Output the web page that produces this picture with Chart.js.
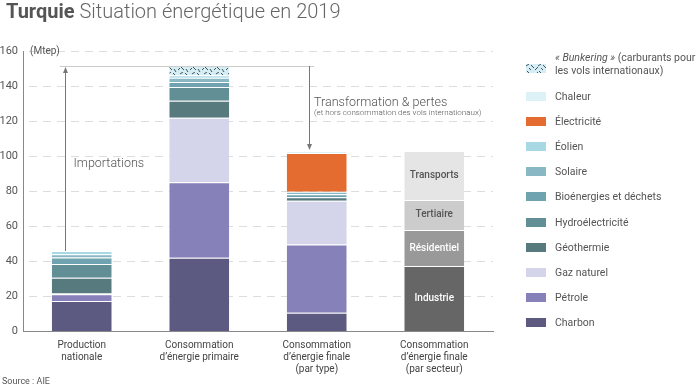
<!DOCTYPE html>
<html>
<head>
<meta charset="utf-8">
<script src="https://cdn.jsdelivr.net/npm/chart.js@4/dist/chart.umd.min.js"></script>
<style>
  body { margin: 0; background: #fff; font-family: Roboto, "Noto Sans", sans-serif; }
  #wrap { position: relative; width: 700px; height: 387px; overflow: hidden; }
  #title { position: absolute; left: 6px; top: -1px; font-size: 20px; color: #666; font-weight: 300; white-space: nowrap; }
  #title b { font-weight: 700; color: #555; }
  #source { position: absolute; left: 2px; top: 376px; font-size: 9px; color: #555; }
  #legend { position: absolute; left: 526px; top: 0; width: 180px; font-size: 10.5px; color: #555; }
  .item { position: absolute; left: 0; white-space: nowrap; }
  .sw { position: absolute; left: 0; width: 20px; height: 9px; }
  .lbl { position: absolute; left: 29px; line-height: 13px; }
</style>
</head>
<body>
<div id="wrap">
  <canvas id="chart" width="700" height="387"></canvas>
  <div id="title"><b>Turquie</b> Situation énergétique en 2019</div>
  <div id="legend"></div>
  <div id="source">Source : AIE</div>
</div>
<script>
const categories = [
    ['Production', 'nationale'],
    ['Consommation', 'd’énergie primaire'],
    ['Consommation', 'd’énergie finale', '(par type)'],
    ['Consommation', 'd’énergie finale', '(par secteur)']
];

// Mtep, par barre
const charbon = [17.1, 41.9, 10.5, 0];
const petrole = [3.9, 43.1, 39.0, 0];
const gazNaturel = [0.4, 36.9, 25.0, 0];
const geothermie = [9.1, 9.7, 1.9, 0];
const hydro = [7.8, 7.8, 0, 0];
const bioenergies = [3.7, 2.9, 1.7, 0];
const solaire = [1.8, 2.4, 1.5, 0];
const eolien = [1.9, 1.4, 0, 0];
const electricite = [0, 0, 22.1, 0];
const chaleur = [0, 0, 1.2, 0];
const bunkering = [0, 5.3, 0, 0];

const industrie = [0, 0, 0, 37.1];
const residentiel = [0, 0, 0, 20.6];
const tertiaire = [0, 0, 0, 17.2];
const transports = [0, 0, 0, 28.0];

const yTicks = [0, 20, 40, 60, 80, 100, 120, 140, 160];

function makePattern() {
    const c = document.createElement('canvas');
    c.width = 12; c.height = 12;
    const g = c.getContext('2d');
    g.fillStyle = '#d6eef3';
    g.fillRect(0, 0, 12, 12);
    g.strokeStyle = '#3f5560';
    g.lineWidth = 1;
    const strokes = [[0, 2, 3, 0], [5, 1, 8, 4], [9, 6, 12, 3], [1, 7, 4, 10], [6, 9, 8, 12], [3, 4, 5, 6], [10, 10, 12, 8]];
    strokes.forEach(s => {
        g.beginPath(); g.moveTo(s[0], s[1]); g.lineTo(s[2], s[3]); g.stroke();
    });
    return c;
}
const patternCanvas = makePattern();
const ctx = document.getElementById('chart').getContext('2d');
const bunkerPattern = ctx.createPattern(patternCanvas, 'repeat');

const series = [
    { label: 'Charbon', data: charbon, color: '#5c5a80' },
    { label: 'Pétrole', data: petrole, color: '#8681b8' },
    { label: 'Gaz naturel', data: gazNaturel, color: '#d4d4ea' },
    { label: 'Géothermie', data: geothermie, color: '#567a7d' },
    { label: 'Hydroélectricité', data: hydro, color: '#628f95' },
    { label: 'Bioénergies et déchets', data: bioenergies, color: '#70a3b0' },
    { label: 'Solaire', data: solaire, color: '#89b8c4' },
    { label: 'Éolien', data: eolien, color: '#a8d8e4' },
    { label: 'Électricité', data: electricite, color: '#e56c31' },
    { label: 'Chaleur', data: chaleur, color: '#dcf2f6' },
    { label: 'Bunkering', data: bunkering, color: bunkerPattern }
];
const sectors = [
    { label: 'Industrie', data: industrie, color: '#666666', text: '#ffffff' },
    { label: 'Résidentiel', data: residentiel, color: '#999999', text: '#ffffff' },
    { label: 'Tertiaire', data: tertiaire, color: '#cccccc', text: '#555555' },
    { label: 'Transports', data: transports, color: '#e5e5e5', text: '#555555' }
];

const datasets = series.concat(sectors).map(s => ({
    label: s.label,
    data: s.data,
    backgroundColor: s.color,
    borderColor: 'rgba(255,255,255,0.35)',
    borderWidth: { top: 1 },
    borderSkipped: 'bottom',
    stack: 'all',
    barPercentage: 0.51,
    categoryPercentage: 1
}));

const sum = i => series.reduce((a, s) => a + s.data[i], 0);

// dashed grid lines behind the bars
const dashedGrid = {
    id: 'dashedGrid',
    beforeDatasetsDraw(chart) {
        const c = chart.ctx;
        const y = chart.scales.y;
        const area = chart.chartArea;
        c.save();
        c.strokeStyle = '#dddddd';
        c.lineWidth = 1;
        c.setLineDash([8, 6]);
        yTicks.forEach(v => {
            if (v === 0) return;
            const py = Math.round(y.getPixelForValue(v)) + 0.5;
            c.beginPath();
            c.moveTo(area.left + 6, py);
            c.lineTo(area.right, py);
            c.stroke();
        });
        c.restore();
    }
};

const annotations = {
    id: 'annotations',
    afterDatasetsDraw(chart) {
        const c = chart.ctx;
        const x = chart.scales.x, y = chart.scales.y;
        // sector labels
        sectors.forEach((s, k) => {
            const el = chart.getDatasetMeta(series.length + k).data[3];
            c.save();
            c.fillStyle = s.text;
            c.font = '500 10px Roboto';
            c.textAlign = 'center';
            c.textBaseline = 'middle';
            c.fillText(s.label, el.x, (el.y + el.base) / 2);
            c.restore();
        });

        const topY = Math.round(y.getPixelForValue(sum(1)));
        const upX = Math.round(x.getPixelForValue(0) - 16.5);
        const downX = Math.round(x.getPixelForValue(2) - 7.5);
        const prodY = y.getPixelForValue(sum(0));
        const finalY = y.getPixelForValue(sum(2));
        c.save();
        c.strokeStyle = '#777';
        c.fillStyle = '#777';
        c.lineWidth = 1;
        c.beginPath();
        c.moveTo(upX + 0.5, prodY);
        c.lineTo(upX + 0.5, topY + 4);
        c.stroke();
        c.strokeStyle = '#ccc';
        c.beginPath();
        c.moveTo(x.getPixelForValue(0) - 22, topY + 0.5);
        c.lineTo(x.getPixelForValue(2) - 2.5, topY + 0.5);
        c.stroke();
        c.strokeStyle = '#777';
        c.beginPath();
        c.moveTo(downX + 0.5, topY);
        c.lineTo(downX + 0.5, finalY - 4);
        c.stroke();
        c.beginPath();
        c.moveTo(upX + 0.5, topY + 1);
        c.lineTo(upX - 2, topY + 7);
        c.lineTo(upX + 3, topY + 7);
        c.fill();
        c.beginPath();
        c.moveTo(downX + 0.5, finalY - 1);
        c.lineTo(downX - 2, finalY - 7);
        c.lineTo(downX + 3, finalY - 7);
        c.fill();

        c.fillStyle = '#555';
        c.textBaseline = 'middle';
        c.font = '300 12.5px Roboto';
        c.fillText('Importations', upX + 8.5, y.getPixelForValue(95.5));
        c.fillText('Transformation & pertes', downX + 5, y.getPixelForValue(130.5));
        c.font = '300 8px Roboto';
        c.fillText('(et hors consommation des vols internationaux)', downX + 5, y.getPixelForValue(124.3));
        c.font = '10px Roboto';
        c.fillText('(Mtep)', chart.chartArea.left + 7, y.getPixelForValue(159.8));
        c.restore();
    }
};

new Chart(ctx, {
    type: 'bar',
    data: { labels: categories, datasets: datasets },
    plugins: [dashedGrid, annotations],
    options: {
        responsive: false,
        animation: false,
        events: [],
        layout: { padding: { top: 51, right: 207, left: 0, bottom: 0 } },
        plugins: { legend: { display: false }, tooltip: { enabled: false } },
        scales: {
            x: {
                stacked: true,
                grid: { display: false, drawTicks: false },
                border: { color: '#888', width: 1 },
                ticks: { color: '#444', font: { family: 'Roboto', size: 10 }, padding: 8, maxRotation: 0 },
                afterFit(scale) { scale.height = 56; }
            },
            y: {
                stacked: true,
                min: 0,
                max: 160,
                afterBuildTicks(scale) { scale.ticks = yTicks.map(v => ({ value: v })); },
                grid: { display: false, drawTicks: false },
                border: { color: '#888', width: 1 },
                ticks: { color: '#555', font: { family: 'Roboto', size: 11 }, padding: 5 },
                afterFit(scale) { scale.width = 23; }
            }
        }
    }
});

// legend (HTML)
const legendItems = [
    { label: 'Chaleur', color: '#dcf2f6', y: 97 },
    { label: 'Électricité', color: '#e56c31', y: 122 },
    { label: 'Éolien', color: '#a8d8e4', y: 147 },
    { label: 'Solaire', color: '#89b8c4', y: 172 },
    { label: 'Bioénergies et déchets', color: '#70a3b0', y: 197 },
    { label: 'Hydroélectricité', color: '#628f95', y: 223 },
    { label: 'Géothermie', color: '#567a7d', y: 248 },
    { label: 'Gaz naturel', color: '#d4d4ea', y: 273 },
    { label: 'Pétrole', color: '#8681b8', y: 298 },
    { label: 'Charbon', color: '#5c5a80', y: 323 }
];
const legend = document.getElementById('legend');
let html = `<div class="item" style="top:0"><div class="sw" style="top:64px;background:url(${patternCanvas.toDataURL()})"></div>` +
    `<div class="lbl" style="top:51px"><i>« Bunkering »</i> (carburants pour<br>les vols internationaux)</div></div>`;
legendItems.forEach(it => {
    html += `<div class="item" style="top:0"><div class="sw" style="top:${it.y - 5}px;background:${it.color}"></div>` +
        `<div class="lbl" style="top:${it.y - 7}px">${it.label}</div></div>`;
});
legend.innerHTML = html;
</script>
</body>
</html>
